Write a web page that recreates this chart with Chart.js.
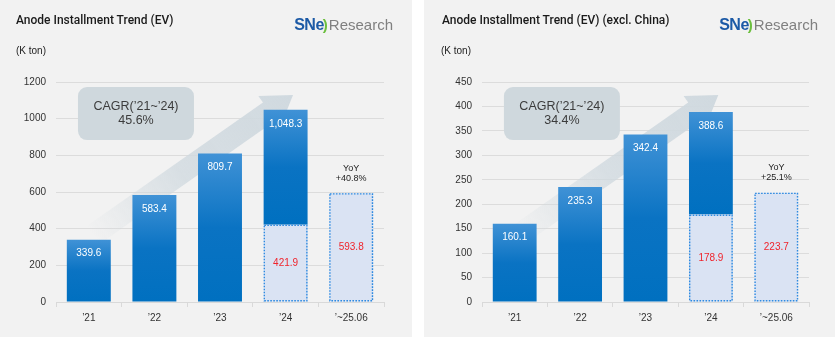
<!DOCTYPE html>
<html>
<head>
<meta charset="utf-8">
<script src="https://cdn.jsdelivr.net/npm/chart.js@4.4.1/dist/chart.umd.min.js"></script>
<style>
  html, body { margin:0; padding:0; background:#ffffff; }
  body { width:835px; height:337px; position:relative; overflow:hidden; font-family:"Liberation Sans", Arial, sans-serif; }
  .panel { position:absolute; top:0; height:337px; background:#f2f2f2; }
  .panel canvas { position:absolute; left:0; top:0; }
  .title { position:absolute; top:13px; font-family:Roboto, "Liberation Sans", sans-serif; font-weight:500; font-size:12px; color:#1a1a1a; white-space:nowrap; }
  .unit { position:absolute; top:45px; font-size:10px; color:#222; white-space:nowrap; }
  .logo { position:absolute; top:16px; white-space:nowrap; line-height:18px; }
  .logo .sn { font-family:"Liberation Sans", Arial, sans-serif; font-weight:bold; font-size:16px; color:#1c5aa6; letter-spacing:-0.5px; }
  .logo .arc { font-family:"Liberation Sans", Arial, sans-serif; font-weight:bold; font-size:15px; color:#6cbf3f; margin-left:-1px; }
  .logo .rs { font-family:"Liberation Sans Narrow", "Liberation Sans", sans-serif; font-size:15px; color:#808080; margin-left:1px; }
</style>
</head>
<body>
<div class="panel" id="p1" style="left:0; width:412px;">
  <canvas id="c1" width="412" height="337"></canvas>
  <div class="title" style="left:16px;">Anode Installment Trend (EV)</div>
  <div class="unit" style="left:16px;">(K ton)</div>
  <div class="logo" style="right:19px;"><span class="sn">SNe</span><span class="arc">)</span><span class="rs">Research</span></div>
</div>
<div class="panel" id="p2" style="left:424px; width:411px;">
  <canvas id="c2" width="411" height="337"></canvas>
  <div class="title" style="left:18px;">Anode Installment Trend (EV) (excl. China)</div>
  <div class="unit" style="left:17px;">(K ton)</div>
  <div class="logo" style="right:17px;"><span class="sn">SNe</span><span class="arc">)</span><span class="rs">Research</span></div>
</div>
<script>
// ---- data ----
const categories = ['\u201921', '\u201922', '\u201923', '\u201924', '\u2019~25.06'];

const evTotals = [339.6, 583.4, 809.7, 1048.3, null];
const evFirstHalf = [null, null, null, 421.9, 593.8];
const evYoY = [null, null, null, null, '+40.8%'];
const evCagr = '45.6%';
const evAxisMax = 1200;
const evAxisStep = 200;

const exTotals = [160.1, 235.3, 342.4, 388.6, null];
const exFirstHalf = [null, null, null, 178.9, 223.7];
const exYoY = [null, null, null, null, '+25.1%'];
const exCagr = '34.4%';
const exAxisMax = 450;
const exAxisStep = 50;

const cagrLabel = 'CAGR(\u201921~\u201924)';

function fmt(v) {
  return v.toLocaleString('en-US', { minimumFractionDigits: 1, maximumFractionDigits: 1 });
}

function makeChart(canvasId, totals, firstHalf, yoy, cagr, axisMax, axisStep, yWidth, padRight) {
  const upper = totals.map((t, i) => (t == null ? null : +(t - (firstHalf[i] || 0)).toFixed(1)));

  const blueFill = (c) => {
    const chart = c.chart;
    if (c.type !== 'data' || !chart.chartArea || !chart.scales.y) return '#0070c0';
    const i = c.dataIndex;
    if (totals[i] == null) return '#0070c0';
    const y = chart.scales.y;
    const top = y.getPixelForValue(totals[i]);
    const base = y.getPixelForValue(firstHalf[i] || 0);
    const g = chart.ctx.createLinearGradient(0, top, 0, base);
    g.addColorStop(0, '#4092d6');
    g.addColorStop(0.5, '#0a73c3');
    g.addColorStop(1, '#0070c0');
    return g;
  };

  const decorPlugin = {
    id: 'decor' + canvasId,
    beforeDatasetsDraw(chart) {
      const ctx = chart.ctx;
      const a = chart.chartArea;
      // growth arrow
      const ang = 35 * Math.PI / 180;
      const d = { x: Math.cos(ang), y: -Math.sin(ang) };
      const p = { x: Math.sin(ang), y: Math.cos(ang) };
      const tip = { x: a.left + 0.7226 * a.width, y: a.top + 0.059 * a.height };
      const L = 29, W = 19, bw = 11, bodyLen = 215;
      const base = { x: tip.x - L * d.x, y: tip.y - L * d.y };
      const tail = { x: base.x - bodyLen * d.x, y: base.y - bodyLen * d.y };
      const pt = (o, s) => [o.x + s * p.x, o.y + s * p.y];
      const pts = [pt(tail, -bw), pt(base, -bw), pt(base, -W), [tip.x, tip.y], pt(base, W), pt(base, bw), pt(tail, bw)];
      const g = ctx.createLinearGradient(tail.x, tail.y, tip.x, tip.y);
      g.addColorStop(0, 'rgba(208,217,223,0)');
      g.addColorStop(0.45, 'rgba(208,217,223,0.8)');
      g.addColorStop(1, 'rgba(208,217,223,1)');
      ctx.save();
      ctx.beginPath();
      pts.forEach((q, k) => (k ? ctx.lineTo(q[0], q[1]) : ctx.moveTo(q[0], q[1])));
      ctx.closePath();
      ctx.fillStyle = g;
      ctx.fill();
      // CAGR box
      const bx = a.left + 0.067 * a.width, by = a.top + 0.023 * a.height;
      const bwid = 116, bh = 53;
      ctx.beginPath();
      ctx.roundRect(bx, by, bwid, bh, 9);
      ctx.fillStyle = '#cfd8dd';
      ctx.fill();
      ctx.fillStyle = '#3c3c3c';
      ctx.font = '12.5px "Liberation Sans", Arial, sans-serif';
      ctx.textAlign = 'center';
      ctx.textBaseline = 'middle';
      ctx.fillText(cagrLabel, bx + bwid / 2, by + 19);
      ctx.fillText(cagr, bx + bwid / 2, by + 33);
      ctx.restore();
    },
    afterDatasetsDraw(chart) {
      const ctx = chart.ctx;
      const lightMeta = chart.getDatasetMeta(0);
      const blueMeta = chart.getDatasetMeta(1);
      ctx.save();
      ctx.textAlign = 'center';
      ctx.textBaseline = 'middle';
      // dotted outlines + red labels + yoy
      lightMeta.data.forEach((el, i) => {
        if (firstHalf[i] == null) return;
        const half = el.width / 2;
        ctx.save();
        ctx.strokeStyle = '#2e8ae0';
        ctx.lineWidth = 1.4;
        ctx.setLineDash([1.6, 1.4]);
        ctx.strokeRect(el.x - half + 0.7, el.y + 0.7, el.width - 1.4, el.base - el.y - 1.4);
        ctx.restore();
        ctx.fillStyle = '#f0242c';
        ctx.font = '10px "Liberation Sans", Arial, sans-serif';
        ctx.fillText(fmt(firstHalf[i]), el.x, (el.y + el.base) / 2);
        if (yoy[i]) {
          ctx.fillStyle = '#222';
          ctx.font = '9px "Liberation Sans", Arial, sans-serif';
          ctx.fillText('YoY', el.x, el.y - 25);
          ctx.fillText(yoy[i], el.x, el.y - 15);
        }
      });
      blueMeta.data.forEach((el, i) => {
        if (totals[i] == null) return;
        ctx.fillStyle = '#ffffff';
        ctx.font = '10px "Liberation Sans", Arial, sans-serif';
        ctx.fillText(fmt(totals[i]), el.x, el.y + 14);
      });
      ctx.restore();
    }
  };

  return new Chart(document.getElementById(canvasId), {
    type: 'bar',
    data: {
      labels: categories,
      datasets: [
        { label: 'H1', data: firstHalf, backgroundColor: '#dae3f3', borderWidth: 0, categoryPercentage: 1, barPercentage: 0.67 },
        { label: 'Total', data: upper, backgroundColor: blueFill, borderWidth: 0, categoryPercentage: 1, barPercentage: 0.67 }
      ]
    },
    options: {
      responsive: false,
      animation: false,
      devicePixelRatio: 1,
      layout: { padding: { top: 82, right: padRight, bottom: 0, left: 0 } },
      plugins: { legend: { display: false }, tooltip: { enabled: false }, title: { display: false } },
      scales: {
        x: {
          stacked: true,
          grid: { display: true, drawOnChartArea: false, drawTicks: true, tickLength: 5, color: '#d9d9d9', offset: true },
          border: { display: true, color: '#d9d9d9' },
          ticks: { color: '#333', font: { size: 10, family: '"Liberation Sans", Arial, sans-serif' }, padding: 5 },
          afterFit(s) { s.height = 35; }
        },
        y: {
          stacked: true,
          min: 0, max: axisMax,
          ticks: { stepSize: axisStep, color: '#333', padding: 10, font: { size: 10, family: '"Liberation Sans", Arial, sans-serif' }, callback: (v) => String(v) },
          grid: { color: '#dcdcdc', drawTicks: false, lineWidth: 1 },
          border: { display: false },
          afterFit(s) { s.width = yWidth; }
        }
      }
    },
    plugins: [decorPlugin]
  });
}

makeChart('c1', evTotals, evFirstHalf, evYoY, evCagr, evAxisMax, evAxisStep, 56, 28);
makeChart('c2', exTotals, exFirstHalf, exYoY, exCagr, exAxisMax, exAxisStep, 58, 26);
</script>
</body>
</html>
